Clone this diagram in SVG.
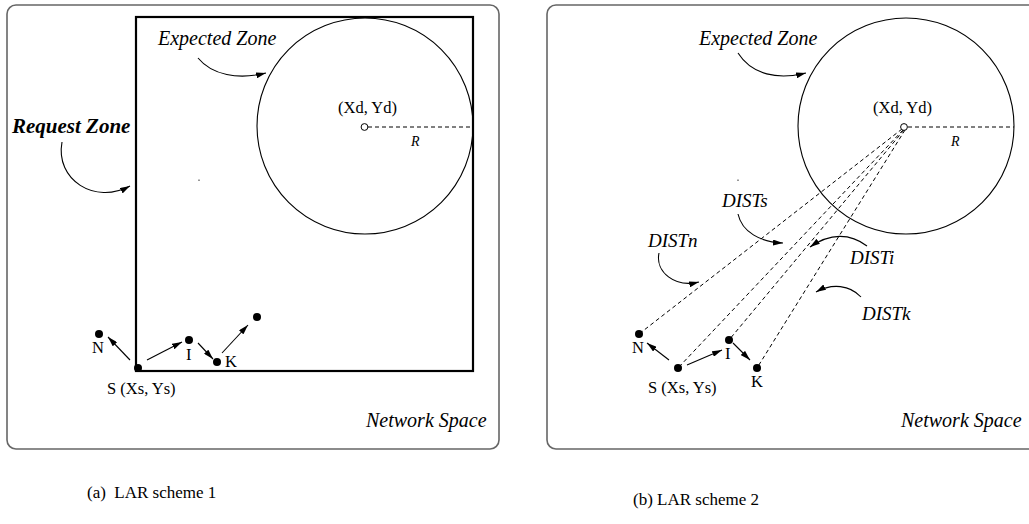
<svg xmlns="http://www.w3.org/2000/svg" width="1029" height="524" viewBox="0 0 1029 524">
<defs>
<marker id="ah" viewBox="0 0 10 6" refX="10" refY="3" markerWidth="10" markerHeight="6" markerUnits="userSpaceOnUse" orient="auto">
<path d="M0,0 L10,3 L0,6 Z" fill="#000"/>
</marker>
<style>
.panel{fill:#fff;stroke:#666;stroke-width:1.6}
.zone{fill:none;stroke:#000;stroke-width:2.2}
.circ{fill:none;stroke:#000;stroke-width:1.1}
.dash{fill:none;stroke:#000;stroke-width:1;stroke-dasharray:4,3}
.arr{fill:none;stroke:#000;stroke-width:1.1;marker-end:url(#ah)}
.node{fill:#000}
.ctr{fill:#fff;stroke:#000;stroke-width:1}
text{font-family:"Liberation Serif","Times New Roman",serif;fill:#000}
.lbl{font-size:16.5px}
.it{font-style:italic;font-size:20px}
.dist{font-style:italic;font-size:19px}
.r{font-style:italic;font-size:14px}
.bi{font-style:italic;font-weight:bold;font-size:21px}
.cap{font-size:17px}
</style>
</defs>

<g id="panel-a">
<rect class="panel" x="7" y="5" width="492" height="444" rx="9"/>
<rect class="zone" x="136" y="17" width="337" height="354"/>
<circle class="circ" cx="365" cy="126" r="108"/>
<line class="dash" x1="368" y1="127" x2="473" y2="127"/>
<circle class="ctr" cx="364.5" cy="127" r="3.4"/>
<text class="lbl" x="338" y="113">(Xd, Yd)</text>
<text class="r" x="411" y="146">R</text>
<text class="it" x="158" y="45">Expected Zone</text>
<text class="bi" x="12" y="133">Request Zone</text>
<text class="it" x="366" y="427">Network Space</text>
<rect x="198.5" y="179.5" width="1" height="1.5" fill="#333"/>
</g>

<g id="node-a-S"><circle class="node" cx="138" cy="368" r="4"/><text class="lbl" x="107" y="394">S (Xs, Ys)</text></g>
<g id="node-a-N"><circle class="node" cx="99" cy="334" r="4"/><text class="lbl" x="92" y="353">N</text></g>
<g id="node-a-I"><circle class="node" cx="189" cy="340" r="4"/><text class="lbl" x="186" y="360">I</text></g>
<g id="node-a-K"><circle class="node" cx="217" cy="362" r="4"/><text class="lbl" x="225" y="367">K</text></g>
<g id="node-a-X"><circle class="node" cx="257" cy="317" r="4"/></g>

<g id="panel-b">
<rect class="panel" x="547" y="5" width="492" height="444" rx="9"/>
<circle class="circ" cx="906" cy="126" r="108"/>
<line class="dash" x1="908" y1="127" x2="1014" y2="127"/>
<text class="lbl" x="873" y="113">(Xd, Yd)</text>
<text class="r" x="951" y="146">R</text>
<text class="it" x="699" y="45">Expected Zone</text>
<text class="it" x="901" y="427">Network Space</text>
<text class="dist" x="722" y="207">DISTs</text>
<text class="dist" x="648" y="247">DISTn</text>
<text class="dist" x="850" y="264">DISTi</text>
<text class="dist" x="862" y="320">DISTk</text>
<rect x="737.5" y="179.5" width="1" height="1.5" fill="#333"/>
</g>

<g id="node-b-S"><circle class="node" cx="678" cy="368" r="4"/><text class="lbl" x="648" y="393">S (Xs, Ys)</text></g>
<g id="node-b-N"><circle class="node" cx="639" cy="334" r="4"/><text class="lbl" x="632" y="353">N</text></g>
<g id="node-b-I"><circle class="node" cx="729" cy="340" r="4"/><text class="lbl" x="725" y="359">I</text></g>
<g id="node-b-K"><circle class="node" cx="757" cy="368" r="4"/><text class="lbl" x="751" y="387">K</text></g>

<g id="connectors">
<path class="arr" d="M198,58 C212,75 238,80 266,73"/>
<path class="arr" d="M62,142 C55,180 95,205 130,186"/>
<line class="arr" x1="130" y1="360" x2="108" y2="337"/>
<line class="arr" x1="147" y1="360" x2="182" y2="342"/>
<line class="arr" x1="198" y1="343" x2="213" y2="359"/>
<line class="arr" x1="222" y1="353" x2="248" y2="325"/>

<path class="arr" d="M738,53 C752,75 778,80 806,73"/>
<line class="dash" x1="902" y1="129" x2="639" y2="334"/>
<line class="dash" x1="903" y1="130" x2="678" y2="368"/>
<line class="dash" x1="904" y1="130" x2="729" y2="340"/>
<line class="dash" x1="905" y1="130" x2="757" y2="368"/>
<circle class="ctr" cx="904" cy="127" r="3.4"/>
<line class="arr" x1="669" y1="360" x2="647" y2="343"/>
<line class="arr" x1="687" y1="365" x2="722" y2="350"/>
<line class="arr" x1="733" y1="343" x2="750" y2="360"/>
<path class="arr" d="M738,214 C742,232 760,242 783,243"/>
<path class="arr" d="M659,253 C655,272 675,288 699,282"/>
<path class="arr" d="M867,246 C850,233 830,233 810,247"/>
<path class="arr" d="M861,297 C850,285 832,283 816,292"/>
</g>

<g id="captions">
<text class="cap" x="87" y="498" xml:space="preserve">(a)  LAR scheme 1</text>
<text class="cap" x="633" y="505">(b) LAR scheme 2</text>
</g>
</svg>
